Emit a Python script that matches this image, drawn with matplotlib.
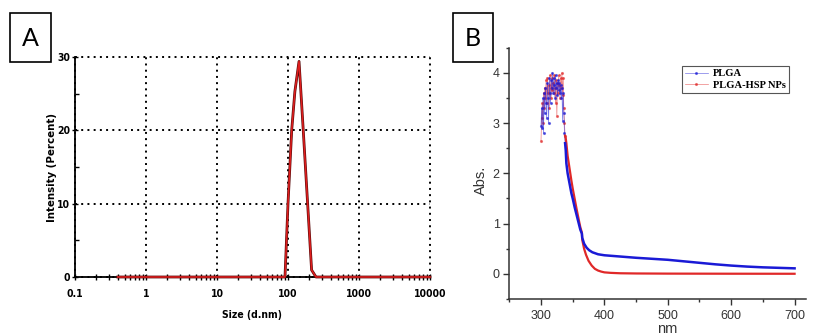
import matplotlib
matplotlib.use("Agg")
import matplotlib.pyplot as plt
from matplotlib import font_manager
from matplotlib.ticker import MultipleLocator, LogLocator, FixedLocator, FixedFormatter, NullFormatter
from matplotlib.patches import Rectangle
from matplotlib.lines import Line2D

# ---------------- data: panel A (DLS size distribution) ----------------
size_nm = [0.4, 90.7, 100, 112.7, 125, 143, 164, 189, 215, 248, 10000]
intensity_pct = [0, 0, 10, 20, 25.3, 29.4, 20, 10, 0.95, 0, 0]
a_xticks = [0.1, 1, 10, 100, 1000, 10000]
a_xticklabels = ["0.1", "1", "10", "100", "1000", "10000"]
a_yticks = [0, 10, 20, 30]

# ---------------- data: panel B (UV-Vis spectra) ----------------
noisy_wl = [300, 301, 302, 303, 304, 305, 306, 307, 308, 309, 310, 311, 312,
            313, 314, 315, 316, 317, 318, 319, 320, 321, 322, 323, 324, 325,
            326, 327, 328, 329, 330, 331, 332, 333, 334, 335, 336, 337, 338]
plga_noisy = [2.95, 3.3, 2.9, 3.5, 2.8, 3.6, 3.2, 3.7, 3.4, 3.1, 3.8, 3.5, 3.0,
              3.9, 3.6, 3.4, 3.85, 3.7, 4.0, 3.6, 3.9, 3.75, 3.5, 3.95, 3.7, 3.8,
              3.55, 3.85, 3.65, 3.8, 3.6, 3.75, 3.5, 3.7, 3.05, 3.6, 3.2, 2.8, 2.6]
hsp_noisy = [2.65, 3.1, 3.4, 3.0, 3.6, 3.3, 3.7, 3.5, 3.85, 3.4, 3.9, 3.6, 3.75,
             3.3, 3.95, 3.7, 3.5, 3.9, 3.65, 3.8, 3.6, 3.95, 3.7, 3.4, 3.85, 3.15,
             3.8, 3.6, 3.95, 3.75, 3.5, 3.9, 3.7, 4.0, 3.55, 3.9, 3.3, 3.0, 2.75]

plga_wl = [338, 339, 340, 342, 345, 348, 350, 353, 356, 360, 362, 364.5,
           365, 368, 372, 376, 381, 390, 400, 410, 425, 450, 475, 500, 525,
           550, 575, 600, 625, 650, 675, 700]
plga_abs = [2.6, 2.46, 2.2, 2.0, 1.8, 1.6, 1.5, 1.33, 1.18, 0.98, 0.88, 0.8,
            0.72, 0.6, 0.52, 0.47, 0.43, 0.39, 0.37, 0.36, 0.345, 0.32, 0.30, 0.28, 0.25,
            0.22, 0.19, 0.165, 0.145, 0.13, 0.12, 0.11]
hsp_wl = [338, 339, 340, 342, 345, 348, 350, 353, 356, 360, 362, 364.5, 365, 368,
          371, 375, 380, 385, 390, 395, 400, 410, 425, 450, 500, 600, 700]
hsp_abs = [2.75, 2.7, 2.6, 2.35, 2.1, 1.85, 1.7, 1.5, 1.3, 1.05, 0.93, 0.82, 0.68, 0.5,
           0.38, 0.26, 0.165, 0.1, 0.066, 0.045, 0.03, 0.02, 0.012, 0.008, 0.005, 0.003, 0.002]
series_labels = ["PLGA", "PLGA-HSP NPs"]


def have(fam):
    try:
        font_manager.findfont(font_manager.FontProperties(family=fam), fallback_to_default=False)
        return True
    except Exception:
        return False

LABELFONT = "Lato" if have("Lato") else "DejaVu Sans"
# condensed bold face for panel A (falls back to normal width if absent)
condA = font_manager.FontProperties(family="DejaVu Sans", stretch="condensed",
                                    weight="bold", size=7.5)
condY = font_manager.FontProperties(family="DejaVu Sans", stretch="condensed",
                                    weight="bold", size=8.2)

W, H = 816, 336
fig = plt.figure(figsize=(W / 100, H / 100), dpi=100)


def fx(px):
    return px / W


def fy(py):
    return 1 - py / H

# ---------------- panel A ----------------
axA = fig.add_axes([fx(75), fy(277), fx(430 - 75), (277 - 57) / H])
axA.set_xscale("log")
axA.set_xlim(0.1, 10000)
axA.set_ylim(0, 30)
axA.plot(size_nm, intensity_pct, color="#5a0a0a", lw=2.0, zorder=3, clip_on=False)
axA.plot(size_nm, intensity_pct, color="#e01e1e", lw=1.1, zorder=4, clip_on=False)
axA.xaxis.set_major_locator(FixedLocator(a_xticks))
axA.xaxis.set_major_formatter(FixedFormatter(a_xticklabels))
axA.xaxis.set_minor_locator(LogLocator(base=10, subs=[2, 3, 4, 5, 6, 7, 8, 9]))
axA.xaxis.set_minor_formatter(NullFormatter())
axA.yaxis.set_major_locator(FixedLocator(a_yticks))
axA.yaxis.set_minor_locator(MultipleLocator(5))
for s in ["top", "right"]:
    axA.spines[s].set_visible(False)
for s in ["left", "bottom"]:
    axA.spines[s].set_linewidth(1.3)
    axA.spines[s].set_color("black")
axA.grid(True, which="major", color="black", linestyle=(0, (1, 2.2)), lw=1.4)
for gl in axA.get_xgridlines() + axA.get_ygridlines():
    gl.set_clip_on(False)
axA.tick_params(axis="x", which="major", direction="inout", length=5, width=1, pad=6)
axA.tick_params(axis="x", which="minor", direction="inout", length=4, width=1)
axA.tick_params(axis="y", which="major", direction="inout", length=5, width=1, pad=1)
axA.tick_params(axis="y", which="minor", direction="in", length=3, width=1)
for lab in axA.get_xticklabels() + axA.get_yticklabels():
    lab.set_fontproperties(condA)
fig.text(fx(252), fy(315), "Size (d.nm)", ha="center", va="center", fontproperties=condA)
fig.text(fx(52), fy(167), "Intensity (Percent)", ha="center", va="center",
         rotation=90, fontproperties=condY)

# ---------------- panel B ----------------
axB = fig.add_axes([fx(509.3), fy(299), fx(806 - 509.3), (299 - 47.7) / H])
axB.set_xlim(250, 718)
axB.set_ylim(-0.5, 4.5)
blue = "#1a1ad6"
red = "#e02828"
axB.plot(noisy_wl, hsp_noisy, color=red, lw=0.5, alpha=0.6,
         marker=".", ms=2.5, mec=red, mfc=red, zorder=2)
axB.plot(noisy_wl, plga_noisy, color=blue, lw=0.5, alpha=0.6,
         marker=".", ms=2.5, mec=blue, mfc=blue, zorder=3)
axB.plot(hsp_wl, hsp_abs, color=red, lw=1.6, zorder=4)
axB.plot(plga_wl, plga_abs, color=blue, lw=1.8, zorder=5)
axB.xaxis.set_major_locator(FixedLocator([300, 400, 500, 600, 700]))
axB.xaxis.set_minor_locator(MultipleLocator(50))
axB.yaxis.set_major_locator(FixedLocator([0, 1, 2, 3, 4]))
axB.yaxis.set_minor_locator(MultipleLocator(0.5))
for s in ["top", "right"]:
    axB.spines[s].set_visible(False)
for s in ["left", "bottom"]:
    axB.spines[s].set_linewidth(1.1)
    axB.spines[s].set_color("#333333")
axB.tick_params(axis="both", which="major", direction="out", length=4, width=1,
                labelsize=9, colors="#333333", labelcolor="#333333")
axB.tick_params(axis="both", which="minor", direction="out", length=2, width=1, colors="#333333")
axB.tick_params(axis="x", which="major", pad=4)
axB.tick_params(axis="y", which="major", pad=3)
for lab in axB.get_xticklabels() + axB.get_yticklabels():
    lab.set_fontfamily("Liberation Sans")
fig.text(fx(481), fy(180), "Abs.", ha="center", va="center", rotation=90,
         family="Liberation Sans", fontsize=10.5, color="#333333")
fig.text(fx(667), fy(329), "nm", ha="center", va="center",
         family="Liberation Sans", fontsize=10.5, color="#333333")

handles = [Line2D([0, 0.5, 1], [0, 0, 0], color=blue, lw=0.5, alpha=0.6, marker=".", ms=2.5, markevery=[1]),
           Line2D([0, 0.5, 1], [0, 0, 0], color=red, lw=0.5, alpha=0.6, marker=".", ms=2.5, markevery=[1])]
leg = fig.legend(handles, series_labels, loc="upper left",
                 bbox_to_anchor=(fx(681.7), fy(65.7)), bbox_transform=fig.transFigure,
                 fancybox=False, framealpha=1, edgecolor="#555555",
                 prop={"family": "Liberation Serif", "weight": "bold", "size": 7.6},
                 handlelength=2.2, handletextpad=0.45, labelspacing=0.2,
                 borderpad=0.3, borderaxespad=0)
leg.get_frame().set_linewidth(0.8)

# ---------------- panel letters ----------------
for (x0, y0, x1, y1, letter) in [(10, 13, 51, 62, "A"), (453, 12.7, 493, 62, "B")]:
    fig.patches.append(Rectangle((fx(x0), fy(y1)), fx(x1 - x0), (y1 - y0) / H,
                                 transform=fig.transFigure, fill=False,
                                 edgecolor="black", lw=1.2))
    fig.text(fx((x0 + x1) / 2), fy((y0 + y1) / 2 + 1), letter, ha="center", va="center",
             family=LABELFONT, fontsize=18)

fig.savefig("out.png", dpi=100)
